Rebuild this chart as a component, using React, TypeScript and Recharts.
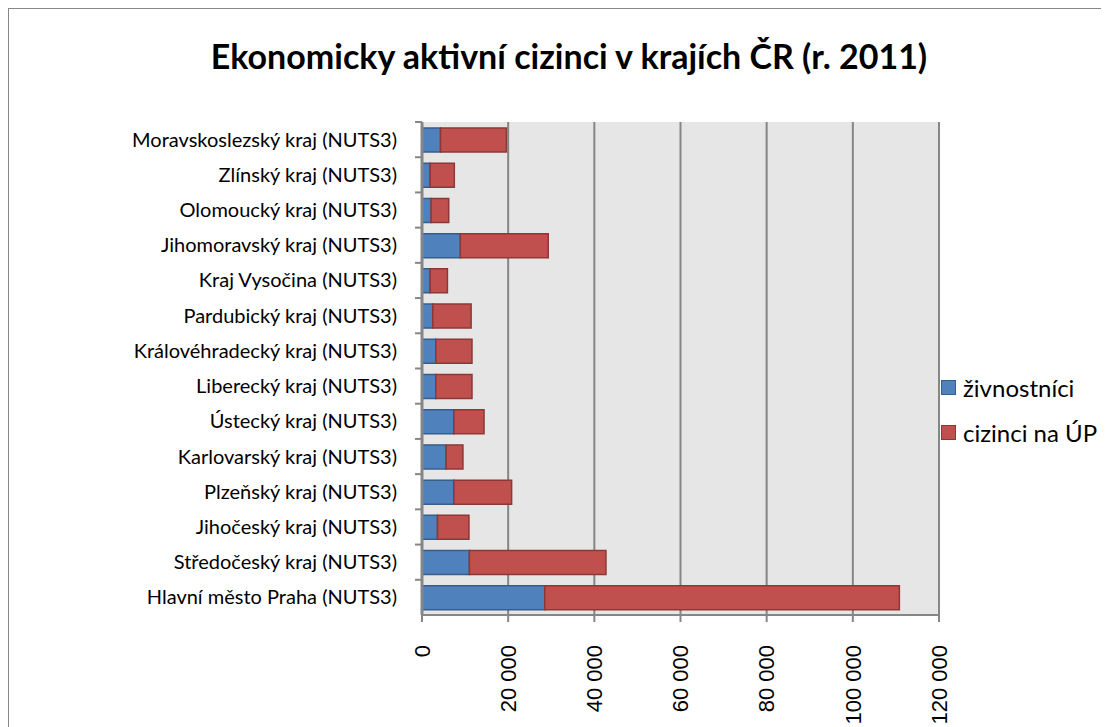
import { BarChart, Bar, XAxis, YAxis, CartesianGrid } from "recharts";

const regions = [
  "Hlavní město Praha (NUTS3)",
  "Středočeský kraj (NUTS3)",
  "Jihočeský kraj (NUTS3)",
  "Plzeňský kraj (NUTS3)",
  "Karlovarský kraj (NUTS3)",
  "Ústecký kraj (NUTS3)",
  "Liberecký kraj (NUTS3)",
  "Královéhradecký kraj (NUTS3)",
  "Pardubický kraj (NUTS3)",
  "Kraj Vysočina (NUTS3)",
  "Jihomoravský kraj (NUTS3)",
  "Olomoucký kraj (NUTS3)",
  "Zlínský kraj (NUTS3)",
  "Moravskoslezský kraj (NUTS3)",
];

// živnostníci
const tradesmen = [28500, 11000, 3600, 7400, 5600, 7400, 3200, 3200, 2500, 1900, 8900, 2100, 1900, 4300];
// cizinci na ÚP
const registered = [82300, 31700, 7300, 13400, 3900, 7000, 8400, 8400, 8900, 4000, 20400, 4100, 5600, 15300];

const xTicks = [0, 20000, 40000, 60000, 80000, 100000, 120000];

const series = [
  { key: "zivnostnici", label: "živnostníci", fill: "#4f81bd", stroke: "#385d8a" },
  { key: "up", label: "cizinci na ÚP", fill: "#c0504d", stroke: "#8c3836" },
];

const data = regions.map((name, i) => ({
  name,
  zivnostnici: tradesmen[i],
  up: registered[i],
}));

const W = 1092;
const H = 740;
const TOP = 113;
const XAXIS_H = 134;
const band = (H - TOP - XAXIS_H) / regions.length;

const fmt = (v: number) => String(v).replace(/\B(?=(\d{3})+(?!\d))/g, " ");

function CatTick(props: any) {
  const { x, y, payload } = props;
  return (
    <g>
      <line x1={x - 7} x2={x} y1={y - band / 2} y2={y - band / 2} stroke="#868686" strokeWidth={2} />
      <text x={x - 25} y={y} dy="0.35em" textAnchor="end" fill="#000" fontSize={20} fontFamily="Lato, sans-serif">
        {payload.value}
      </text>
    </g>
  );
}

function ValTick(props: any) {
  const { x, y, payload } = props;
  return (
    <g transform={`translate(${x},${y + 21}) rotate(-90)`}>
      <text x={0} y={0} dy="0.35em" textAnchor="end" fill="#000" fontSize={22} fontFamily="'Liberation Sans', Arial, sans-serif">
        {fmt(payload.value)}
      </text>
    </g>
  );
}

export default function App() {
  return (
    <div
      style={{
        position: "relative",
        width: W,
        height: 720,
        border: "1px solid #888",
        overflow: "hidden",
        background: "#fff",
      }}
    >
      <div
        style={{
          position: "absolute",
          top: 26,
          left: 14,
          width: W,
          textAlign: "center",
          fontFamily: "Lato, sans-serif",
          fontWeight: 700,
          fontSize: 34,
          color: "#000",
        }}
      >
        Ekonomicky aktivní cizinci v krajích ČR (r. 2011)
      </div>
      <BarChart
        width={W}
        height={H}
        data={data}
        layout="vertical"
        margin={{ top: TOP, right: 162, bottom: 0, left: 0 }}
        barSize={24}
      >
        <CartesianGrid horizontal={false} stroke="#868686" strokeWidth={2} fill="#e6e6e6" />
        <XAxis
          type="number"
          domain={[0, 120000]}
          ticks={xTicks}
          interval={0}
          height={XAXIS_H}
          axisLine={{ stroke: "#868686", strokeWidth: 2 }}
          tickLine={{ stroke: "#868686", strokeWidth: 2 }}
          tickSize={7}
          tick={<ValTick />}
        />
        <YAxis
          type="category"
          dataKey="name"
          reversed
          width={413}
          interval={0}
          axisLine={{ stroke: "#868686", strokeWidth: 3 }}
          tickLine={false}
          tickSize={0}
          tickMargin={0}
          tick={<CatTick />}
        />
        {series.map((s) => (
          <Bar
            key={s.key}
            dataKey={s.key}
            name={s.label}
            stackId="a"
            fill={s.fill}
            stroke={s.stroke}
            strokeWidth={1.5}
            isAnimationActive={false}
          />
        ))}
      </BarChart>
      <div
        style={{
          position: "absolute",
          left: 932,
          top: 356,
          fontFamily: "Lato, sans-serif",
          fontSize: 24,
          color: "#000",
        }}
      >
        {series.map((s) => (
          <div key={s.key} style={{ display: "flex", alignItems: "center", height: 45 }}>
            <span
              style={{
                display: "inline-block",
                width: 13,
                height: 13,
                background: s.fill,
                border: `1px solid ${s.stroke}`,
                marginRight: 7,
              }}
            />
            {s.label}
          </div>
        ))}
      </div>
    </div>
  );
}
